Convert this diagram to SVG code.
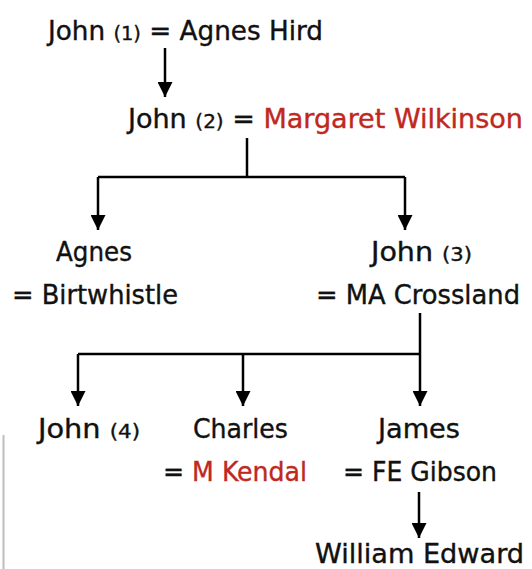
<svg xmlns="http://www.w3.org/2000/svg" width="532" height="569" viewBox="0 0 532 569">
<defs>
<marker id="ah" viewBox="0 0 10 10" refX="10" refY="5" markerWidth="6" markerHeight="6" markerUnits="strokeWidth" orient="auto">
<path d="M0,0 L10,5 L0,10 z" fill="#000"/>
</marker>
<style>
.t{font-family:"DejaVu Sans Condensed","DejaVu Sans",sans-serif;font-size:27px;fill:#111;stroke:#111;stroke-width:0.35}
.n{font-size:20px}
.r{fill:#c0281e;stroke:#c0281e}
.c{fill:none;stroke:#000;stroke-width:2.5}
.a{marker-end:url(#ah)}
</style>
</defs>
<rect width="532" height="569" fill="#fff"/>
<line x1="3.5" y1="435" x2="3.5" y2="569" stroke="#bdbdbd" stroke-width="2"/>
<g id="connectors">
<line class="c a" x1="165" y1="48" x2="165" y2="97"/>
<line class="c" x1="247" y1="138" x2="247" y2="177"/>
<line class="c" x1="98" y1="177" x2="405" y2="177"/>
<line class="c a" x1="98" y1="177" x2="98" y2="230"/>
<line class="c a" x1="405" y1="177" x2="405" y2="230"/>
<line class="c" x1="420" y1="313" x2="420" y2="354"/>
<line class="c" x1="78" y1="354" x2="420" y2="354"/>
<line class="c a" x1="78" y1="354" x2="78" y2="406"/>
<line class="c a" x1="243" y1="354" x2="243" y2="406"/>
<line class="c a" x1="420" y1="354" x2="420" y2="406"/>
<line class="c a" x1="419" y1="492" x2="419" y2="538"/>
</g>
<g id="n1"><text class="t" x="48" y="40" textLength="275" lengthAdjust="spacingAndGlyphs">John <tspan class="n">(1)</tspan> = Agnes Hird</text></g>
<g id="n2"><text class="t" x="128" y="128" textLength="395" lengthAdjust="spacingAndGlyphs">John <tspan class="n">(2)</tspan> = <tspan class="r">Margaret Wilkinson</tspan></text></g>
<g id="n3"><text class="t" x="56" y="261" textLength="76" lengthAdjust="spacingAndGlyphs">Agnes</text>
<text class="t" x="12" y="304" textLength="166" lengthAdjust="spacingAndGlyphs">= Birtwhistle</text></g>
<g id="n4"><text class="t" x="371" y="261" textLength="101" lengthAdjust="spacingAndGlyphs">John <tspan class="n">(3)</tspan></text>
<text class="t" x="316" y="304" textLength="204" lengthAdjust="spacingAndGlyphs">= MA Crossland</text></g>
<g id="n5"><text class="t" x="38" y="438" textLength="102" lengthAdjust="spacingAndGlyphs">John <tspan class="n">(4)</tspan></text></g>
<g id="n6"><text class="t" x="193" y="438" textLength="95" lengthAdjust="spacingAndGlyphs">Charles</text>
<text class="t" x="163" y="481" textLength="144" lengthAdjust="spacingAndGlyphs">= <tspan class="r">M Kendal</tspan></text></g>
<g id="n7"><text class="t" x="378" y="438" textLength="82" lengthAdjust="spacingAndGlyphs">James</text>
<text class="t" x="343" y="481" textLength="154" lengthAdjust="spacingAndGlyphs">= FE Gibson</text></g>
<g id="n8"><text class="t" x="315" y="563" textLength="209" lengthAdjust="spacingAndGlyphs">William Edward</text></g>
</svg>
